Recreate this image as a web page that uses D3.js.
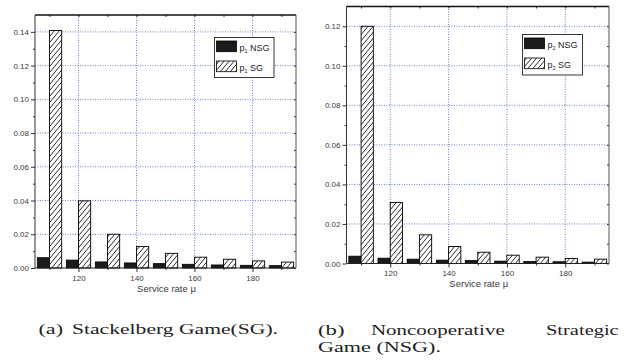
<!DOCTYPE html>
<html><head><meta charset="utf-8">
<script src="https://cdn.jsdelivr.net/npm/d3@7"></script>
<style>
html,body{margin:0;padding:0;background:#fff;}
svg{display:block;}
</style></head>
<body>
<svg id="c" width="626" height="360"></svg>
<script>
// ---- data ----
const mu = [110, 120, 130, 140, 150, 160, 170, 180, 190];
const p1NSG = [0.0061, 0.0047, 0.0036, 0.0030, 0.0026, 0.0022, 0.0018, 0.0016, 0.0014];
const p1SG  = [0.1408, 0.0398, 0.0200, 0.0127, 0.0087, 0.0064, 0.0052, 0.0042, 0.0035];
const p2NSG = [0.0037, 0.0027, 0.0022, 0.0017, 0.0015, 0.0012, 0.0010, 0.0009, 0.0007];
const p2SG  = [0.1200, 0.0309, 0.0145, 0.0086, 0.0057, 0.0042, 0.0032, 0.0025, 0.0022];
const xTicks = [120, 140, 160, 180];
const xMinor = [110, 130, 150, 170, 190];
const yTicksA = [0, 0.02, 0.04, 0.06, 0.08, 0.10, 0.12, 0.14];
const yTicksB = [0, 0.02, 0.04, 0.06, 0.08, 0.10, 0.12];
const xLabel = "Service rate \u03bc";

const svg = d3.select("#c");
const defs = svg.append("defs");
const pat = defs.append("pattern").attr("id", "hatch")
  .attr("patternUnits", "userSpaceOnUse").attr("width", 5).attr("height", 6);
pat.append("rect").attr("width", 5).attr("height", 6).attr("fill", "#fff");
pat.append("path").attr("d", "M0,6 L5,0 M-1,1.2 L1,-1.2 M4,7.2 L6,4.8")
  .attr("stroke", "#111").attr("stroke-width", 0.9);

const grid = "#4b5fc4";
const txtCol = "#3a3a3a";

function panel(o) {
  const g = svg.append("g");
  const x = d3.scaleLinear().domain([105, 195]).range([o.l, o.r]);
  const y = d3.scaleLinear().domain([0, o.yMax]).range([o.b, o.t]);
  const yMinor = d3.range(0.01, o.yMax, 0.02);

  // grid
  g.selectAll(".gh").data(o.yTicks.filter(d => d > 0)).join("line")
    .attr("x1", o.l).attr("x2", o.r).attr("y1", d => y(d)).attr("y2", d => y(d))
    .attr("stroke", grid).attr("stroke-width", 0.8).attr("stroke-dasharray", "1,1.5");
  g.selectAll(".gv").data(xTicks).join("line")
    .attr("x1", d => x(d)).attr("x2", d => x(d)).attr("y1", o.t).attr("y2", o.b)
    .attr("stroke", grid).attr("stroke-width", 0.8).attr("stroke-dasharray", "1,1.5");

  // bars
  const bw = 4.2;
  g.selectAll(".bn").data(mu).join("rect")
    .attr("x", d => x(d - bw)).attr("width", d => x(d) - x(d - bw))
    .attr("y", (d, i) => y(o.nsg[i])).attr("height", (d, i) => o.b - y(o.nsg[i]))
    .attr("fill", "#1b1b1b").attr("stroke", "#000").attr("stroke-width", 0.8);
  g.selectAll(".bs").data(mu).join("rect")
    .attr("x", d => x(d)).attr("width", d => x(d + bw) - x(d))
    .attr("y", (d, i) => y(o.sg[i])).attr("height", (d, i) => o.b - y(o.sg[i]))
    .attr("fill", "url(#hatch)").attr("stroke", "#000").attr("stroke-width", 0.9);

  // axes
  const yAx = g.append("g").attr("transform", `translate(${o.l},0)`)
    .call(d3.axisLeft(y).tickValues(o.yTicks).tickFormat(d3.format(".2f")).tickSize(4).tickPadding(2));
  yAx.selectAll("text").attr("font-family", "Liberation Sans, Arial, sans-serif").attr("font-size", 8).attr("fill", txtCol);
  yAx.select(".domain").remove();
  yAx.selectAll("line").attr("stroke", "#333");
  const yMi = g.append("g").attr("transform", `translate(${o.l},0)`)
    .call(d3.axisLeft(y).tickValues(yMinor).tickFormat("").tickSize(2));
  yMi.select(".domain").remove(); yMi.selectAll("line").attr("stroke", "#333");
  const yR = g.append("g").attr("transform", `translate(${o.r},0)`)
    .call(d3.axisLeft(y).tickValues(o.yTicks.concat(yMinor)).tickFormat("").tickSize(2));
  yR.select(".domain").remove(); yR.selectAll("line").attr("stroke", "#333");

  const xAx = g.append("g").attr("transform", `translate(0,${o.b})`)
    .call(d3.axisBottom(x).tickValues(xTicks).tickFormat(d3.format("d")).tickSize(4).tickPadding(3));
  xAx.selectAll("text").attr("font-family", "Liberation Sans, Arial, sans-serif").attr("font-size", 8).attr("fill", txtCol);
  xAx.select(".domain").remove(); xAx.selectAll("line").attr("stroke", "#333");
  const xMi = g.append("g").attr("transform", `translate(0,${o.b})`)
    .call(d3.axisBottom(x).tickValues(xMinor).tickFormat("").tickSize(2));
  xMi.select(".domain").remove(); xMi.selectAll("line").attr("stroke", "#333");
  const xT = g.append("g").attr("transform", `translate(0,${o.t})`)
    .call(d3.axisBottom(x).tickValues(xTicks.concat(xMinor)).tickFormat("").tickSize(2));
  xT.select(".domain").remove(); xT.selectAll("line").attr("stroke", "#333");

  // frame
  g.append("line").attr("x1", o.l).attr("x2", o.r).attr("y1", o.t).attr("y2", o.t).attr("stroke", "#111").attr("stroke-width", 1.4);
  g.append("line").attr("x1", o.l).attr("x2", o.r).attr("y1", o.b).attr("y2", o.b).attr("stroke", "#222").attr("stroke-width", 1);
  g.append("line").attr("x1", o.l).attr("x2", o.l).attr("y1", o.t).attr("y2", o.b).attr("stroke", "#333").attr("stroke-width", 1);
  g.append("line").attr("x1", o.r).attr("x2", o.r).attr("y1", o.t).attr("y2", o.b).attr("stroke", "#555").attr("stroke-width", 1);

  // x label
  g.append("text").attr("x", (x(140) + x(160)) / 2 + 1).attr("y", o.b + 23.5)
    .attr("text-anchor", "middle").attr("font-family", "Liberation Sans, Arial, sans-serif")
    .attr("font-size", 9.5).attr("fill", txtCol).text(xLabel);

  // legend
  const L = o.leg;
  g.append("rect").attr("x", L.x).attr("y", L.y).attr("width", L.w).attr("height", L.h)
    .attr("fill", "#fff").attr("stroke", "#222").attr("stroke-width", 0.9);
  const items = [{f: "#1b1b1b", t: "NSG"}, {f: "url(#hatch)", t: "SG"}];
  items.forEach((it, i) => {
    const yy = L.y + 3.5 + i * 20;
    g.append("rect").attr("x", L.x + 2).attr("y", yy).attr("width", 20).attr("height", 10.7)
      .attr("fill", it.f).attr("stroke", "#000").attr("stroke-width", 0.8);
    const tx = g.append("text").attr("x", L.x + 25).attr("y", yy + 9.5)
      .attr("font-family", "Liberation Sans, Arial, sans-serif").attr("font-size", 9).attr("fill", "#222");
    tx.append("tspan").text("p");
    tx.append("tspan").attr("font-size", 5.5).attr("dy", 2).text(o.sub);
    tx.append("tspan").attr("dy", -2).text(" " + it.t);
  });
}

panel({l: 35, r: 296, t: 15, b: 268, yMax: 0.15, yTicks: yTicksA, nsg: p1NSG, sg: p1SG, sub: "1",
       leg: {x: 214.5, y: 37.5, w: 59.5, h: 40}});
panel({l: 346.5, r: 609, t: 6.5, b: 263.5, yMax: 0.13, yTicks: yTicksB, nsg: p2NSG, sg: p2SG, sub: "2",
       leg: {x: 522.5, y: 34.5, w: 60, h: 40.5}});

// captions
function cap(txt, x0, x1, yb) {
  svg.append("text").attr("x", x0).attr("y", yb)
    .attr("font-family", "Liberation Serif, Times New Roman, serif").attr("font-size", 14).attr("fill", "#222")
    .attr("textLength", x1 - x0).attr("lengthAdjust", "spacingAndGlyphs").text(txt);
}
cap("(a)", 38.5, 63, 334);
cap("Stackelberg Game(SG).", 72, 278, 334);
cap("(b)", 318, 344.5, 335);
cap("Noncooperative", 371, 504.7, 335);
cap("Strategic", 546, 618.7, 335);
cap("Game (NSG).", 318, 441, 352);
</script>
</body></html>
